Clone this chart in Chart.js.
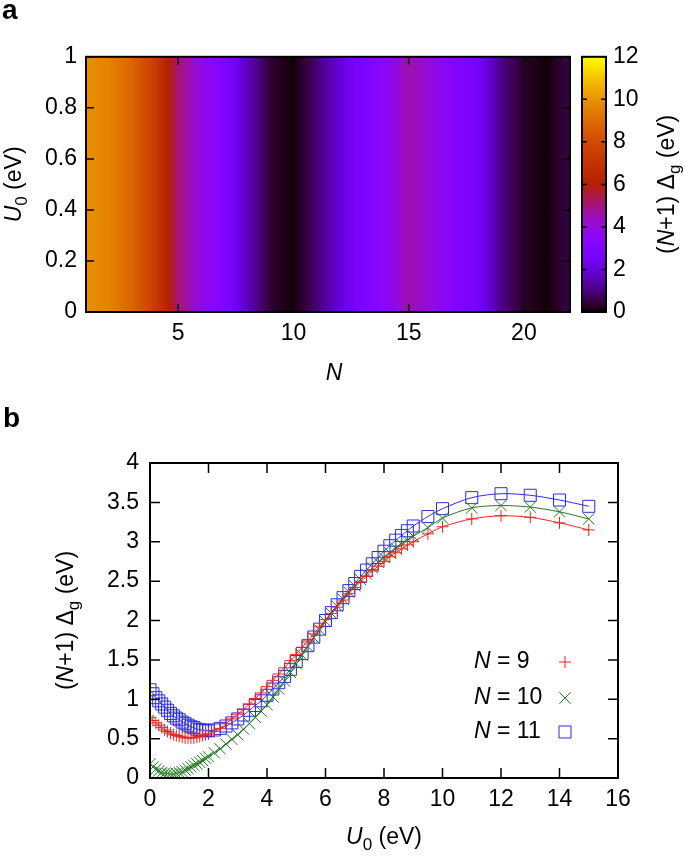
<!DOCTYPE html>
<html>
<head>
<meta charset="utf-8">
<script src="https://cdn.jsdelivr.net/npm/chart.js@4.4.1/dist/chart.umd.min.js"></script>
<style>
  html, body { margin: 0; padding: 0; background: #fff; }
  body { width: 685px; height: 857px; position: relative; overflow: hidden; }
  .panel { position: absolute; left: 0; width: 685px; }
  #pa { top: 0; height: 395px; }
  #pb { top: 395px; height: 462px; }
</style>
</head>
<body>
<div class="panel" id="pa"><canvas id="mapChart" width="685" height="395"></canvas></div>
<div class="panel" id="pb"><canvas id="gapChart" width="685" height="462"></canvas></div>
<script>
// ---- panel a: (N+1)*gap map, flat along U0 ----
const nValues = [1, 2, 3, 4, 5, 6, 7, 8, 9, 10, 11, 12, 13, 14, 15, 16, 17, 18, 19, 20, 21, 22];
const mapGap  = [9.9, 9.6, 8.8, 7.4, 5.1, 3.9, 3.1, 1.6, 0.4, 0.05, 0.9, 1.9, 2.9, 3.5, 4.6, 4.0, 3.2, 2.6, 1.1, 0.3, 0.05, 0.6];
const mapU0   = [0, 1];
const mapXTicks = [5, 10, 15, 20];
const cbMax = 12;

// ---- panel b: (N+1)*gap vs U0 ----
const u0Values = [0, 0.1, 0.2, 0.3, 0.4, 0.5, 0.6, 0.7, 0.8, 0.9, 1.0, 1.1, 1.2, 1.3, 1.4, 1.5, 1.6, 1.7, 1.8, 1.9, 2.0,
  2.2, 2.4, 2.6, 2.8, 3.0, 3.2, 3.4, 3.6, 3.8, 4.0, 4.2, 4.4, 4.6, 4.8, 5.0, 5.2, 5.4, 5.6, 5.8, 6.0,
  6.2, 6.4, 6.6, 6.8, 7.0, 7.2, 7.4, 7.6, 7.8, 8.0, 8.2, 8.4, 8.6, 8.8, 9.0,
  9.5, 10, 11, 12, 13, 14, 15];
const gapN9 = [0.77, 0.73, 0.70, 0.67, 0.64, 0.61, 0.59, 0.57, 0.55, 0.54, 0.53, 0.52, 0.51, 0.51, 0.51, 0.51, 0.52, 0.53, 0.54, 0.55, 0.56,
  0.59, 0.63, 0.69, 0.75, 0.81, 0.87, 0.94, 1.01, 1.08, 1.16, 1.24, 1.32, 1.40, 1.49, 1.57, 1.66, 1.74, 1.83, 1.92, 2.01,
  2.09, 2.17, 2.26, 2.34, 2.42, 2.49, 2.56, 2.63, 2.69, 2.75, 2.81, 2.86, 2.91, 2.96, 3.00,
  3.10, 3.19, 3.29, 3.33, 3.31, 3.24, 3.15];
const gapN10 = [0.18, 0.14, 0.11, 0.09, 0.07, 0.06, 0.055, 0.05, 0.05, 0.06, 0.07, 0.08, 0.10, 0.12, 0.14, 0.16, 0.18, 0.20, 0.22, 0.25, 0.27,
  0.32, 0.37, 0.43, 0.49, 0.55, 0.62, 0.69, 0.77, 0.85, 0.93, 1.03, 1.13, 1.23, 1.34, 1.45, 1.56, 1.67, 1.78, 1.88, 1.99,
  2.09, 2.18, 2.27, 2.36, 2.44, 2.52, 2.59, 2.67, 2.74, 2.80, 2.86, 2.92, 2.97, 3.02, 3.07,
  3.18, 3.30, 3.43, 3.46, 3.44, 3.38, 3.29];
const gapN11 = [1.12, 1.07, 1.02, 0.98, 0.94, 0.90, 0.86, 0.82, 0.79, 0.76, 0.74, 0.71, 0.69, 0.67, 0.65, 0.64, 0.62, 0.61, 0.61, 0.60, 0.60,
  0.61, 0.63, 0.66, 0.70, 0.75, 0.80, 0.86, 0.92, 0.98, 1.05, 1.13, 1.21, 1.29, 1.38, 1.48, 1.58, 1.68, 1.79, 1.89, 2.00,
  2.10, 2.20, 2.29, 2.38, 2.47, 2.56, 2.64, 2.72, 2.80, 2.88, 2.95, 3.02, 3.08, 3.14, 3.20,
  3.32, 3.42, 3.56, 3.61, 3.59, 3.53, 3.45];
const seriesNames = ['9', '10', '11'];
const seriesColors = ['#ee2222', '#237a23', '#2a2aee'];

const FONT = "'Liberation Sans', Arial, Helvetica, sans-serif";
const FS = 23;
Chart.defaults.font.family = FONT;
Chart.defaults.font.size = FS;
Chart.defaults.color = '#000';

// gnuplot default palette (rgbformulae 7,5,15)
function palette(t) {
  t = Math.min(1, Math.max(0, t));
  const r = Math.sqrt(t), g = t * t * t, b = Math.max(0, Math.sin(2 * Math.PI * t));
  return `rgb(${Math.round(r * 255)},${Math.round(g * 255)},${Math.round(b * 255)})`;
}

function richText(ctx, parts, x, y, size, rot, align) {
  ctx.save();
  ctx.translate(x, y);
  if (rot) ctx.rotate(rot);
  ctx.textBaseline = 'middle';
  ctx.textAlign = 'left';
  ctx.fillStyle = '#000';
  const fontOf = p => (p.it ? 'italic ' : '') + (p.sub ? Math.round(size * 0.72) : size) + 'px ' + FONT;
  let w = 0;
  parts.forEach(p => { ctx.font = fontOf(p); w += ctx.measureText(p.t).width; });
  let cx = align === 'left' ? 0 : -w / 2;
  parts.forEach(p => {
    ctx.font = fontOf(p);
    ctx.fillText(p.t, cx, p.sub ? size * 0.32 : 0);
    cx += ctx.measureText(p.t).width;
  });
  ctx.restore();
}

// inner ticks on all four sides + frame, gnuplot style
function frame(chart, len) {
  const { ctx, chartArea: a, scales } = chart;
  ctx.save();
  ctx.strokeStyle = '#000';
  ctx.lineWidth = 1.5;
  ctx.beginPath();
  scales.x.ticks.forEach(t => {
    const px = scales.x.getPixelForValue(t.value);
    ctx.moveTo(px, a.bottom); ctx.lineTo(px, a.bottom - len);
    ctx.moveTo(px, a.top); ctx.lineTo(px, a.top + len);
  });
  scales.y.ticks.forEach(t => {
    const py = scales.y.getPixelForValue(t.value);
    ctx.moveTo(a.left, py); ctx.lineTo(a.left + len, py);
    ctx.moveTo(a.right, py); ctx.lineTo(a.right - len, py);
  });
  ctx.stroke();
  ctx.lineWidth = 2;
  ctx.strokeRect(a.left, a.top, a.right - a.left, a.bottom - a.top);
  ctx.restore();
}

const u0Title = [{ t: 'U', it: true }, { t: '0', sub: true }, { t: ' (eV)' }];
const gapTitle = [{ t: '(' }, { t: 'N', it: true }, { t: '+1) \u0394' }, { t: 'g', sub: true }, { t: ' (eV)' }];

// ---------------- panel a ----------------
const mapPlugin = {
  id: 'mapPlugin',
  beforeDatasetsDraw(chart) {
    const { ctx, scales } = chart;
    const xs = scales.x, ys = scales.y;
    const x0 = xs.getPixelForValue(nValues[0]);
    const x1 = xs.getPixelForValue(nValues[nValues.length - 1]);
    const grad = ctx.createLinearGradient(x0, 0, x1, 0);
    const steps = 10;
    for (let i = 0; i < nValues.length - 1; i++) {
      for (let k = 0; k <= steps; k++) {
        const f = k / steps;
        const n = nValues[i] + (nValues[i + 1] - nValues[i]) * f;
        const v = mapGap[i] + (mapGap[i + 1] - mapGap[i]) * f;
        grad.addColorStop((xs.getPixelForValue(n) - x0) / (x1 - x0), palette(v / cbMax));
      }
    }
    const yTop = ys.getPixelForValue(mapU0[1]), yBot = ys.getPixelForValue(mapU0[0]);
    ctx.save();
    ctx.fillStyle = grad;
    ctx.fillRect(x0, yTop, x1 - x0, yBot - yTop);
    ctx.restore();

    // colour bar, placed with the cb scale
    const cb = scales.cb;
    const cbLeft = 582, cbRight = 606;
    const c0 = cb.getPixelForValue(0), c1 = cb.getPixelForValue(cbMax);
    const vg = ctx.createLinearGradient(0, c0, 0, c1);
    for (let k = 0; k <= 60; k++) vg.addColorStop(k / 60, palette(k / 60));
    ctx.save();
    ctx.fillStyle = vg;
    ctx.fillRect(cbLeft, c1, cbRight - cbLeft, c0 - c1);
    ctx.strokeStyle = '#000';
    ctx.lineWidth = 1.5;
    ctx.beginPath();
    cb.ticks.forEach(t => {
      const py = cb.getPixelForValue(t.value);
      ctx.moveTo(cbLeft, py); ctx.lineTo(cbLeft + 5, py);
      ctx.moveTo(cbRight, py); ctx.lineTo(cbRight - 5, py);
    });
    ctx.stroke();
    ctx.lineWidth = 2;
    ctx.strokeRect(cbLeft, c1, cbRight - cbLeft, c0 - c1);
    ctx.restore();
  },
  afterDraw(chart) {
    const { ctx, chartArea: a } = chart;
    frame(chart, 8);
    richText(ctx, u0Title, 15, (a.top + a.bottom) / 2, FS, -Math.PI / 2);
    richText(ctx, [{ t: 'N', it: true }], (a.left + a.right) / 2 + 6, 374, FS);
    richText(ctx, gapTitle, 668, (a.top + a.bottom) / 2, FS, -Math.PI / 2);
    ctx.save();
    ctx.font = 'bold 28px ' + FONT;
    ctx.textBaseline = 'alphabetic';
    ctx.fillText('a', 2, 19);
    ctx.restore();
  }
};

new Chart(document.getElementById('mapChart'), {
  type: 'scatter',
  data: { datasets: [] },
  options: {
    responsive: false,
    animation: false,
    layout: { padding: { top: 29, right: 0, left: 0, bottom: 0 } },
    plugins: { legend: { display: false }, tooltip: { enabled: false } },
    scales: {
      x: {
        type: 'linear', min: nValues[0], max: nValues[nValues.length - 1],
        afterBuildTicks: s => { s.ticks = mapXTicks.map(v => ({ value: v })); },
        afterFit: s => { s.height = 83; },
        grid: { display: false, drawTicks: false },
        border: { display: false },
        ticks: { padding: 8, maxRotation: 0 }
      },
      y: {
        type: 'linear', min: mapU0[0], max: mapU0[1],
        afterFit: s => { s.width = 86; },
        grid: { display: false, drawTicks: false },
        border: { display: false },
        ticks: { stepSize: 0.2, padding: 9, callback: v => String(Math.round(v * 10) / 10) }
      },
      cb: {
        type: 'linear', position: 'right', min: 0, max: cbMax,
        afterFit: s => { s.width = 115; },
        grid: { display: false, drawTicks: false },
        border: { display: false },
        ticks: { stepSize: 2, padding: 43 }
      }
    }
  },
  plugins: [mapPlugin]
});

// ---------------- panel b ----------------
const gapSeries = [gapN9, gapN10, gapN11];
const markStyles = [
  { pointStyle: 'cross', pointRadius: 6 },
  { pointStyle: 'crossRot', pointRadius: 8 },
  { pointStyle: 'rect', pointRadius: 8.5 }
];

const gapPlugin = {
  id: 'gapPlugin',
  afterDraw(chart) {
    const { ctx, chartArea: a } = chart;
    frame(chart, 10);
    richText(ctx, gapTitle, 67, (a.top + a.bottom) / 2, FS, -Math.PI / 2);
    richText(ctx, u0Title, (a.left + a.right) / 2, 443, FS);
    // key
    const rows = [267, 303, 337];
    seriesNames.forEach((name, i) => {
      richText(ctx, [{ t: 'N', it: true }, { t: ' = ' + name }], 474, rows[i], FS, 0, 'left');
      ctx.save();
      ctx.strokeStyle = seriesColors[i];
      ctx.fillStyle = 'rgba(0,0,0,0)';
      ctx.lineWidth = 1;
      Chart.helpers.drawPoint(ctx, { pointStyle: markStyles[i].pointStyle, radius: markStyles[i].pointRadius, rotation: 0, borderWidth: 1 }, 565, rows[i]);
      ctx.restore();
    });
    ctx.save();
    ctx.font = 'bold 28px ' + FONT;
    ctx.textBaseline = 'alphabetic';
    ctx.fillText('b', 3, 32);
    ctx.restore();
  }
};

new Chart(document.getElementById('gapChart'), {
  type: 'scatter',
  data: {
    datasets: gapSeries.map((ys, i) => ({
      label: 'N = ' + seriesNames[i],
      data: u0Values.map((u, j) => ({ x: u, y: ys[j] })),
      showLine: true,
      tension: 0.3,
      borderColor: seriesColors[i],
      backgroundColor: 'rgba(0,0,0,0)',
      borderWidth: 1,
      pointBorderWidth: 1,
      pointStyle: markStyles[i].pointStyle,
      pointRadius: markStyles[i].pointRadius
    }))
  },
  options: {
    responsive: false,
    animation: false,
    layout: { padding: { top: 68, right: 67, left: 0, bottom: 0 } },
    plugins: { legend: { display: false }, tooltip: { enabled: false } },
    scales: {
      x: {
        type: 'linear', min: 0, max: 16,
        afterFit: s => { s.height = 79; },
        grid: { display: false, drawTicks: false },
        border: { display: false },
        ticks: { stepSize: 2, padding: 8, maxRotation: 0 }
      },
      y: {
        type: 'linear', min: 0, max: 4,
        afterFit: s => { s.width = 150; },
        grid: { display: false, drawTicks: false },
        border: { display: false },
        ticks: { stepSize: 0.5, padding: 11, callback: v => String(v) }
      }
    }
  },
  plugins: [gapPlugin]
});
</script>
</body>
</html>
